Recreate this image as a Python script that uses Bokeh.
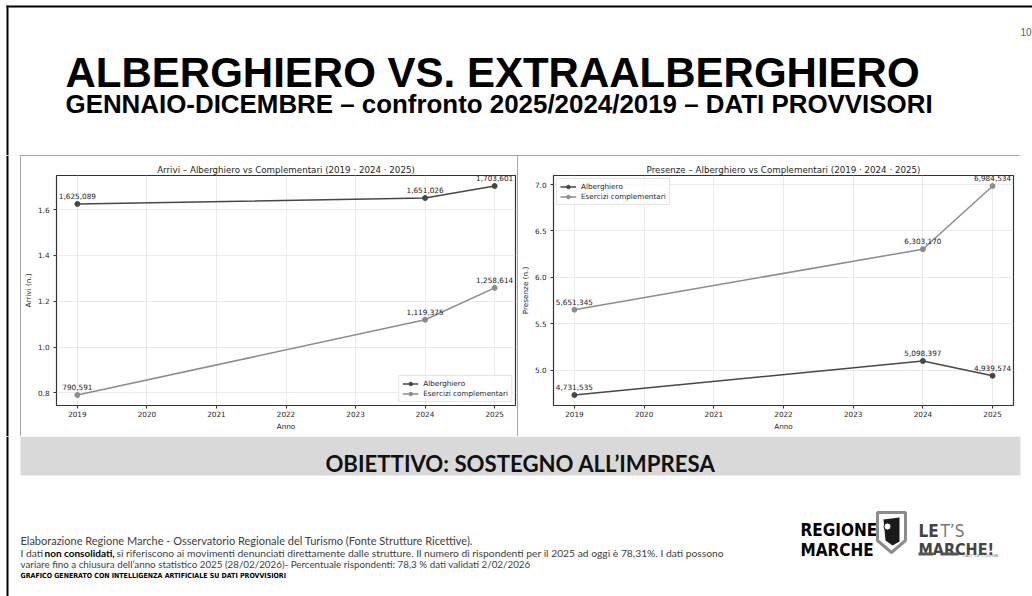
from bokeh.plotting import figure
from bokeh.layouts import column, row
from bokeh.models import (Range1d, ColumnDataSource, LabelSet, Label, FixedTicker,
                          CustomJSTickFormatter, Legend, LegendItem)
from bokeh.core.properties import value
from bokeh.embed import file_html
from bokeh.resources import INLINE

# ---------------- data ----------------
years = [2019, 2024, 2025]
arrivi_alberghiero = [1625089, 1651026, 1703601]
arrivi_complementari = [790591, 1119375, 1258614]
presenze_alberghiero = [4731535, 5098397, 4939574]
presenze_complementari = [5651345, 6303170, 6984534]
year_ticks = [2019, 2020, 2021, 2022, 2023, 2024, 2025]
arrivi_ticks = [800000, 1000000, 1200000, 1400000, 1600000]
presenze_ticks = [5000000, 5500000, 6000000, 6500000, 7000000]
series_names = ["Alberghiero", "Esercizi complementari"]
series_colors = ["#474747", "#8c8c8c"]

# ---------------- page geometry (screen pixels) ----------------
PW, PH = 1032, 596
TOP_MID, TOP_FOOT = 155, 436
LEFT_X, MID_X, RIGHT_X = 20, 517, 1020


def canvas(x0, x1, y0, y1):
    p = figure(width=x1 - x0, height=y1 - y0, x_range=Range1d(x0, x1),
               y_range=Range1d(y1, y0), min_border=0, toolbar_location=None, title=None,
               output_backend="svg", x_axis_location=None, y_axis_location=None,
               outline_line_color=None, background_fill_color="white",
               border_fill_color="white", frame_align=False)
    p.grid.grid_line_color = None
    return p


def page_border(p, y0, y1):
    p.quad(left=[6], right=[8], top=[y0], bottom=[y1], fill_color="black", line_color=None)


# ---------------- header ----------------
header = canvas(0, PW, 0, TOP_MID)
page_border(header, 5, TOP_MID)
header.quad(left=[6], right=[PW], top=[5], bottom=[7], fill_color="black", line_color=None)
header.text(x=[65], y=[72], text=["ALBERGHIERO VS. EXTRAALBERGHIERO"],
            text_font=value("Liberation Sans"), text_font_style="bold",
            text_font_size="42px", text_baseline="alphabetic", text_color="black")
header.text(x=[65], y=[103], text=["GENNAIO-DICEMBRE \u2013 confronto 2025/2024/2019 \u2013 DATI PROVVISORI"],
            text_font=value("Liberation Sans"), text_font_style="bold",
            text_font_size="25.9px", text_baseline="alphabetic", text_color="black")
header.text(x=[1020], y=[31], text=["10"], text_font=value("Liberation Sans"),
            text_font_size="10px", text_baseline="alphabetic", text_color="#595959")


# ---------------- charts ----------------
FONT = "DejaVu Sans"
TXT = "#262626"


def make_chart(title, ylabel, ticks, s1, s2, width, legend_loc, ml, mr):
    lo, hi = min(s1 + s2), max(s1 + s2)
    pad = 0.05 * (hi - lo)
    xpad = 0.05 * (years[-1] - years[0])
    p = figure(width=width, height=TOP_FOOT - TOP_MID,
               x_range=Range1d(years[0] - xpad, years[-1] + xpad),
               y_range=Range1d(lo - pad, hi + pad),
               output_backend="svg", toolbar_location=None, frame_align=False,
               min_border_left=ml, min_border_right=mr,
               min_border_top=20, min_border_bottom=31,
               background_fill_color="white", border_fill_color="white",
               styles={"outline": "1px solid #8a8a8a", "outline-offset": "-1px"})
    p.outline_line_color = "#333333"
    p.outline_line_width = 1.2
    p.title.text = title
    p.title.align = "center"
    p.title.text_font = FONT
    p.title.text_font_style = "normal"
    p.title.text_font_size = "8.7px"
    p.title.text_color = TXT
    p.title.standoff = 2

    p.xaxis.ticker = FixedTicker(ticks=year_ticks)
    p.yaxis.ticker = FixedTicker(ticks=ticks)
    p.yaxis.formatter = CustomJSTickFormatter(code="return (tick/1e6).toFixed(1);")
    p.xaxis.axis_label = "Anno"
    p.yaxis.axis_label = ylabel
    for ax in (p.xaxis[0], p.yaxis[0]):
        ax.axis_line_color = None
        ax.major_tick_line_color = "#333333"
        ax.major_tick_out = 3
        ax.major_tick_in = 0
        ax.minor_tick_line_color = None
        ax.major_label_text_font = FONT
        ax.major_label_text_font_size = "7.25px"
        ax.major_label_text_color = TXT
        ax.axis_label_text_font = FONT
        ax.axis_label_text_font_size = "7.25px"
        ax.axis_label_text_font_style = "normal"
        ax.axis_label_text_color = TXT
        ax.axis_label_standoff = 2
    p.xaxis.major_label_standoff = 2
    p.yaxis.major_label_standoff = 4
    p.grid.grid_line_color = "#e6e6e6"
    p.grid.grid_line_width = 0.8

    items = []
    for name, color, s in zip(series_names, series_colors, (s1, s2)):
        src = ColumnDataSource(dict(x=years, y=s, t=[f"{v:,}" for v in s]))
        r = p.line("x", "y", source=src, line_color=color, line_width=1.5)
        m = p.scatter("x", "y", source=src, size=5, fill_color=color, line_color=color)
        items.append(LegendItem(label=name, renderers=[r, m]))
        p.add_layout(LabelSet(source=src, x="x", y="y", text="t", text_align="center",
                              text_baseline="alphabetic", y_offset=5,
                              text_font=value(FONT), text_font_size=value("7.3px"),
                              text_color="#1a1a1a"))
    leg = Legend(items=items, location=legend_loc)
    leg.label_text_font = FONT
    leg.label_text_font_size = "7.25px"
    leg.label_text_color = TXT
    leg.glyph_width = 16
    leg.glyph_height = 9
    leg.label_height = 9
    leg.label_standoff = 5
    leg.spacing = 1
    leg.padding = 3
    leg.margin = 3
    leg.border_line_color = "#cccccc"
    leg.background_fill_alpha = 0.8
    p.add_layout(leg)
    p.add_layout(Label(x=years[0] - xpad, y=hi + pad, text="1e6", x_offset=1, y_offset=3,
                       text_font=FONT, text_font_size="7.25px", text_color=TXT,
                       text_baseline="alphabetic", text_align="left"))
    return p


left_chart = make_chart("Arrivi \u2013 Alberghiero vs Complementari (2019 \u00b7 2024 \u00b7 2025)",
                        "Arrivi (n.)", arrivi_ticks, arrivi_alberghiero, arrivi_complementari,
                        MID_X - LEFT_X, "bottom_right", 34, 2)
right_chart = make_chart("Presenze \u2013 Alberghiero vs Complementari (2019 \u00b7 2024 \u00b7 2025)",
                         "Presenze (n.)", presenze_ticks, presenze_alberghiero, presenze_complementari,
                         RIGHT_X - MID_X, "top_left", 35, 7)

strip_l = canvas(0, LEFT_X, TOP_MID, TOP_FOOT)
page_border(strip_l, TOP_MID, TOP_FOOT)
strip_r = canvas(RIGHT_X, PW, TOP_MID, TOP_FOOT)
middle = row(strip_l, left_chart, right_chart, strip_r)

# ---------------- footer ----------------
footer = canvas(0, PW, TOP_FOOT, PH)
page_border(footer, TOP_FOOT, PH)
footer.quad(left=[LEFT_X], right=[RIGHT_X], top=[TOP_FOOT], bottom=[475], fill_color="#d9d9d9", line_color=None)
footer.text(x=[(LEFT_X + RIGHT_X) / 2], y=[463], text=["OBIETTIVO: SOSTEGNO ALL\u2019IMPRESA"], text_align="center",
            text_baseline="alphabetic", text_font=value("Lato"), text_font_style="bold",
            text_font_size="22.2px", text_color="#111111")

NOTE_FONT = value("Lato")
NOTE_COL = "#404040"
footer.text(x=[20], y=[540], text=["Elaborazione Regione Marche - Osservatorio Regionale del Turismo (Fonte Strutture Ricettive)."],
            text_font=NOTE_FONT, text_font_size="11px", text_color=NOTE_COL, text_baseline="alphabetic")
footer.text(x=[20], y=[552], text=["I dati"], text_font=NOTE_FONT, text_font_size="10.3px",
            text_color=NOTE_COL, text_baseline="alphabetic")
footer.text(x=[44], y=[552], text=["non consolidati,"], text_font=NOTE_FONT, text_font_size="10px",
            text_font_style="bold", text_color="black", text_baseline="alphabetic")
footer.text(x=[116], y=[552], text=["si riferiscono ai movimenti denunciati direttamente dalle strutture. Il numero di rispondenti per il 2025 ad oggi \u00e8 78,31%. I dati possono"],
            text_font=NOTE_FONT, text_font_size="10.3px", text_color=NOTE_COL, text_baseline="alphabetic")
footer.text(x=[20], y=[563], text=["variare fino a chiusura dell\u2019anno statistico 2025 (28/02/2026)- Percentuale rispondenti: 78,3 % dati validati 2/02/2026"],
            text_font=NOTE_FONT, text_font_size="9.8px", text_color=NOTE_COL, text_baseline="alphabetic")
footer.text(x=[20], y=[575], text=["GRAFICO GENERATO CON INTELLIGENZA ARTIFICIALE SU DATI PROVVISIORI"],
            text_font=value("DejaVu Sans Condensed"), text_font_size="7px", text_font_style="bold",
            text_color="black", text_baseline="alphabetic")

# logos (decorative)
LOGO_FONT = value("DejaVu Sans Condensed")
footer.text(x=[800, 800], y=[529, 549], text=["REGIONE", "MARCHE"], text_font=LOGO_FONT,
            text_font_style="bold", text_font_size="17px", text_color="black", text_baseline="alphabetic")
footer.patch(x=[877, 905, 905, 891, 877], y=[512, 512, 540, 552, 540], fill_color="white",
             line_color="#8c8c8c", line_width=3)
footer.patch(x=[883, 899, 899, 892, 885], y=[519, 517, 541, 545, 540], fill_color="#1a1a1a", line_color=None)
footer.scatter(x=[887], y=[526], size=7, fill_color="white", line_color="#1a1a1a")
footer.text(x=[918], y=[530], text=["LE"], text_font=LOGO_FONT, text_font_style="bold",
            text_font_size="17px", text_color="#444444", text_baseline="alphabetic")
footer.text(x=[940], y=[530], text=["T\u2019S"], text_font=LOGO_FONT,
            text_font_size="17px", text_color="#777777", text_baseline="alphabetic")
footer.text(x=[918], y=[549], text=["MARCHE!"], text_font=LOGO_FONT, text_font_style="bold",
            text_font_size="16px", text_color="#444444", text_baseline="alphabetic")
footer.quad(left=[918, 940], right=[933, 958], top=[552, 552], bottom=[555, 555],
            fill_color="#555555", line_color=None)
footer.text(x=[962], y=[555], text=["ITALY, OF COURSE."], text_font=value("Liberation Sans"),
            text_font_size="4px", text_color="#777777", text_baseline="alphabetic")

layout = column(header, middle, footer)

open("out.html", "w").write(file_html(layout, INLINE))
